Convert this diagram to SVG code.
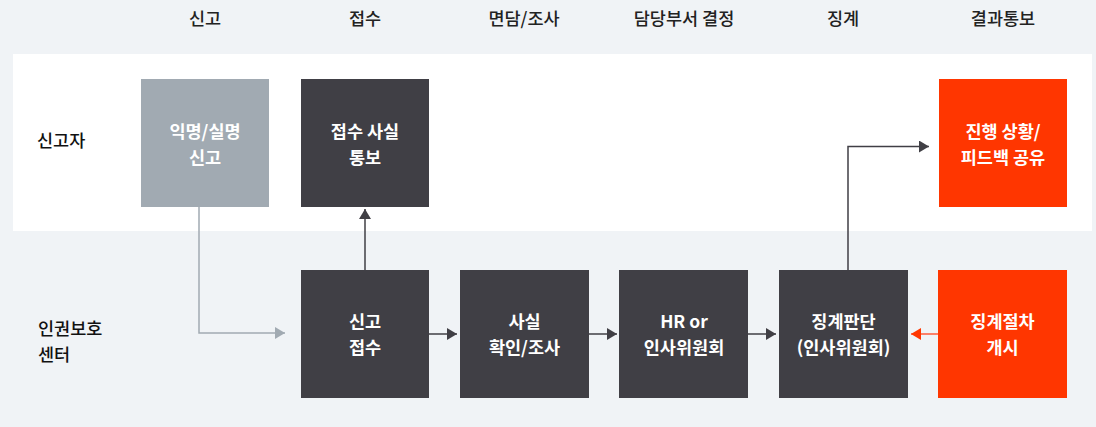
<svg xmlns="http://www.w3.org/2000/svg" width="1096" height="427" viewBox="0 0 1096 427">
<style>
text{font-family:"Noto Sans CJK KR","Noto Sans",sans-serif;font-size:17.5px;}
.hd{fill:#222;font-weight:500;text-anchor:middle;}
.rl{fill:#111;font-weight:500;}
.bt{fill:#fff;font-weight:700;text-anchor:middle;}
.dark{fill:#403f45;}
.gray{fill:#a1aab2;}
.red{fill:#ff3600;}
.ln{fill:none;stroke-width:1.5;}
</style>
<defs>
<marker id="ad" markerWidth="10" markerHeight="12" refX="10" refY="6" orient="auto" markerUnits="userSpaceOnUse"><path d="M0,0 L10,6 L0,12 Z" fill="#403f45"/></marker>
<marker id="ag" markerWidth="10" markerHeight="12" refX="10" refY="6" orient="auto" markerUnits="userSpaceOnUse"><path d="M0,0 L10,6 L0,12 Z" fill="#a1aab2"/></marker>
<marker id="ar" markerWidth="10" markerHeight="12" refX="10" refY="6" orient="auto" markerUnits="userSpaceOnUse"><path d="M0,0 L10,6 L0,12 Z" fill="#ff3600"/></marker>
</defs>
<rect width="1096" height="427" fill="#f0f3f6"/>
<rect x="13" y="54" width="1079" height="177" fill="#fff"/>
<g id="headers">
<text class="hd" x="205" y="25">신고</text>
<text class="hd" x="365" y="25">접수</text>
<text class="hd" x="524" y="25">면담/조사</text>
<text class="hd" x="684" y="25">담당부서 결정</text>
<text class="hd" x="843" y="25">징계</text>
<text class="hd" x="1003" y="25">결과통보</text>
</g>
<g id="rows">
<text class="rl" x="37" y="147">신고자</text>
<text class="rl" x="38" y="335">인권보호</text>
<text class="rl" x="38" y="361">센터</text>
</g>
<g id="connectors">
<path class="ln" d="M199,207 V333 H285" stroke="#a1aab2" marker-end="url(#ag)"/>
<path class="ln" d="M365,270 V209" stroke="#403f45" marker-end="url(#ad)"/>
<path class="ln" d="M429,334 H457" stroke="#403f45" marker-end="url(#ad)"/>
<path class="ln" d="M589,334 H617" stroke="#403f45" marker-end="url(#ad)"/>
<path class="ln" d="M748,334 H776" stroke="#403f45" marker-end="url(#ad)"/>
<path class="ln" d="M938,334 H911" stroke="#ff5a3a" marker-end="url(#ar)"/>
<path class="ln" d="M848,270 V146.5 H929" stroke="#403f45" marker-end="url(#ad)"/>
</g>
<g id="n1"><rect class="gray" x="141" y="79" width="128" height="128"/><text class="bt" x="205" y="138">익명/실명</text><text class="bt" x="205" y="164">신고</text></g>
<g id="n2"><rect class="dark" x="301" y="79" width="128" height="128"/><text class="bt" x="365" y="138">접수 사실</text><text class="bt" x="365" y="164">통보</text></g>
<g id="n3"><rect class="red" x="939" y="79" width="128" height="128"/><text class="bt" x="1003" y="138">진행 상황/</text><text class="bt" x="1003" y="164">피드백 공유</text></g>
<g id="n4"><rect class="dark" x="301" y="270" width="128" height="128"/><text class="bt" x="365" y="328">신고</text><text class="bt" x="365" y="354">접수</text></g>
<g id="n5"><rect class="dark" x="460" y="270" width="129" height="128"/><text class="bt" x="524.5" y="328">사실</text><text class="bt" x="524.5" y="354">확인/조사</text></g>
<g id="n6"><rect class="dark" x="619" y="270" width="129" height="128"/><text class="bt" x="684" y="328">HR or</text><text class="bt" x="684" y="354">인사위원회</text></g>
<g id="n7"><rect class="dark" x="779" y="270" width="129" height="128"/><text class="bt" x="843.5" y="328">징계판단</text><text class="bt" x="843.5" y="354">(인사위원회)</text></g>
<g id="n8"><rect class="red" x="938" y="270" width="129" height="128"/><text class="bt" x="1002.5" y="328">징계절차</text><text class="bt" x="1002.5" y="354">개시</text></g>
</svg>
